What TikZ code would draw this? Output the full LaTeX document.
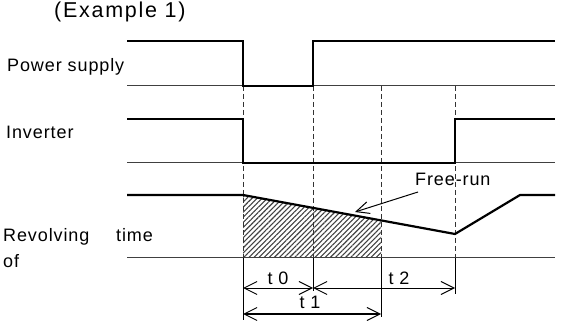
\documentclass[tikz,border=0pt]{standalone}
\usepackage{fontspec}
\setmainfont{Liberation Sans}
\usetikzlibrary{arrows.meta, positioning, patterns.meta, calc}
\tikzset{
  signal/.style={line width=2.2pt, line join=miter},
  axisline/.style={line width=1pt, black!75},
  guide/.style={dash pattern=on 5pt off 3pt, line width=1pt, black!80},
  tick/.style={line width=1pt},
  span/.style={line width=1pt, {Straight Barb[length=13pt,width=13pt,line width=1pt]}-{Straight Barb[length=13pt,width=13pt,line width=1pt]}},
  pointer/.style={line width=1pt, -{Straight Barb[length=13pt,width=12pt]}},
  lbl/.style={font=\fontsize{18}{20}\selectfont\addfontfeature{LetterSpace=5}, inner sep=0pt, anchor=base west},
  ttl/.style={font=\fontsize{21.5}{23}\selectfont\addfontfeature{LetterSpace=8}, inner sep=0pt, anchor=base west},
}
\begin{document}
\begin{tikzpicture}[x=1pt, y=-1pt]
  \useasboundingbox (0,0) rectangle (565,323);
  \def\xs{127} % start of waveforms
  \def\xe{555} % end of waveforms
  \def\ta{243} % power off
  \def\tb{313} % power on
  \def\tc{381} % restart
  \def\td{455} % inverter on
  % title and labels
  \node[ttl] (title) at (54,18) {(Example 1)};
  \node[lbl] (lpower) at (7,72) {Power supply};
  \node[lbl] (linv) at (6,139) {Inverter};
  \node[lbl] (lrev) at (3,242) {Revolving};
  \node[lbl] (ltime) at (116,242) {time};
  \node[lbl] (lof) at (3,268) {of};
  % hatched area
  \fill[pattern={Lines[angle=45,distance=3.6pt,line width=1.1pt]}, pattern color=black!75]
    (\ta,195) -- (\tc,220.4) -- (\tc,258) -- (\ta,258) -- cycle;
  % baselines
  \foreach \yy in {86,163,258}
    \draw[axisline] (\xs,\yy) -- (\xe,\yy);
  % dashed guides
  \foreach \xx in {\ta,\tb,\tc,\td}
    \draw[guide] (\xx,86) -- (\xx,258);
  % waveforms
  \draw[signal] (\xs,41) -- (\ta,41) -- (\ta,86) -- (\tb,86) -- (\tb,41) -- (\xe,41);
  \draw[signal] (\xs,119) -- (\ta,119) -- (\ta,163) -- (\td,163) -- (\td,119) -- (\xe,119);
  \draw[signal] (\xs,195) -- (\ta,195) -- (\td,234) -- (520,195) -- (\xe,195);
  % ticks below the time axis
  \foreach \xx/\yl in {\ta/320,\tb/291,\tc/317,\td/294}
    \draw[tick] (\xx,258) -- (\xx,\yl);
  % time spans
  \coordinate (s0a) at (\ta,288);
  \coordinate (s0b) at (\tb,288);
  \coordinate (s2b) at (\td,288);
  \coordinate (s1a) at (\ta,314);
  \coordinate (s1b) at (\tc,314);
  \draw[span] (s0a) -- (s0b);
  \draw[span] (s0b) -- (s2b);
  \draw[span, line width=1.8pt] (s1a) -- (s1b);
  \node[lbl, anchor=center] (t0) at (278,278) {t 0};
  \node[lbl, anchor=center] (t1) at (310,302) {t 1};
  \node[lbl, anchor=center] (t2) at (399,278) {t 2};
  % free-run label
  \node[lbl] (freerun) at (415,186) {Free-run};
  \coordinate (frtip) at (355,212);
  \draw[pointer] (freerun.base west) ++(3,6) coordinate (frtail) (frtail) -- (frtip);
\end{tikzpicture}
\end{document}
